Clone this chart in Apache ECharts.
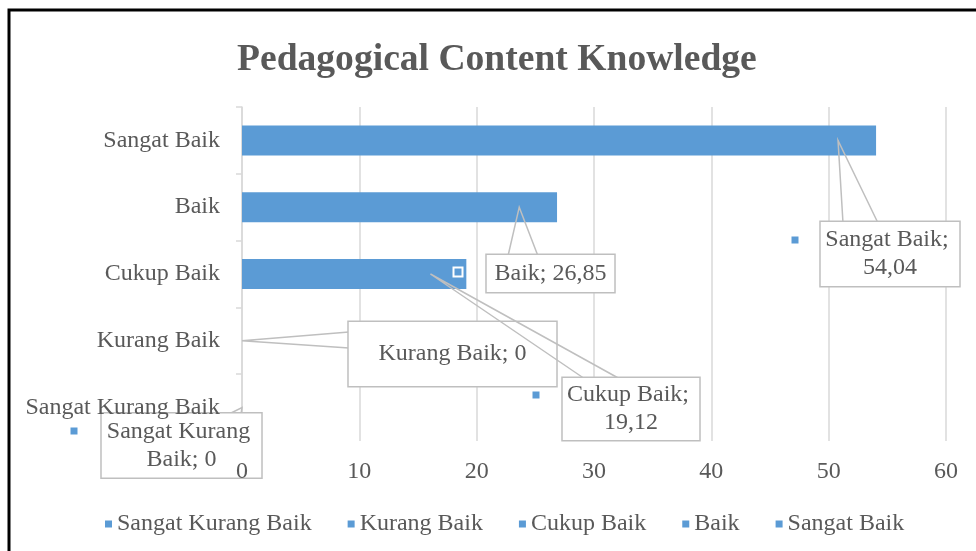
<!DOCTYPE html>
<html>
<head>
<meta charset="utf-8">
<script src="https://cdn.jsdelivr.net/npm/echarts@6/dist/echarts.min.js"></script>
<style>
html,body{margin:0;padding:0;background:#fff;}
#chart{width:976px;height:551px;}
</style>
</head>
<body>
<div id="chart"></div>
<script>
const categories = ['Sangat Kurang Baik', 'Kurang Baik', 'Cukup Baik', 'Baik', 'Sangat Baik'];
const values = [0, 0, 19.12, 26.85, 54.04];
const xTicks = [0, 10, 20, 30, 40, 50, 60];
const titleText = 'Pedagogical Content Knowledge';

// callout layout (pixels): box centre, box size, wedge base points on the box,
// and where along the bar (fraction of its length) the wedge tip points
const labelBoxes = [
  {cx: 181.5, cy: 445.5, w: 161, h: 64, lines: 2, base: [[229, 414], [241, 414]], tip: 0},
  {cx: 452.5, cy: 354, w: 209, h: 64, lines: 1, base: [[349, 332], [349, 348]], tip: 0},
  {cx: 631, cy: 409, w: 138, h: 62, lines: 2, base: [[585, 379], [620, 379]], tip: 0.84},
  {cx: 550.5, cy: 273.5, w: 129, h: 37, lines: 1, base: [[508, 256], [538, 256]], tip: 0.88},
  {cx: 890, cy: 254, w: 140, h: 64, lines: 2, base: [[843, 223], [878, 223]], tip: 0.94}
];
// legend-key squares beside the callouts (null = not shown)
const keyBoxes = [
  {x: 74, y: 431, size: 7, border: 0},
  null,
  {x: 536, y: 395, size: 7, border: 0},
  {x: 458, y: 272, size: 7, border: 2},
  {x: 795, y: 240, size: 7, border: 0}
];

const BLUE = '#5B9BD5';
const TXT = '#595959';
const FONT = "'Liberation Serif', 'Times New Roman', serif";
const LH = 28;

function fmt(v) {
  return v === 0 ? '0' : v.toFixed(2).replace('.', ',');
}

const series = [];
categories.forEach((c, i) => {
  series.push({
    name: c,
    type: 'bar',
    xAxisIndex: 0,
    yAxisIndex: 0,
    barWidth: 30,
    barGap: '-100%',
    itemStyle: {color: BLUE},
    data: categories.map((_, j) => j === i ? values[i] : '-'),
    z: 2
  });
});

// data-label callouts (wedge leader + boxed text + legend key)
series.push({
  name: 'callouts',
  type: 'custom',
  xAxisIndex: 0,
  yAxisIndex: 0,
  z: 3,
  clip: false,
  silent: true,
  encode: {x: 0, y: 1},
  data: values.map((v, i) => [v, i]),
  renderItem: function (params, api) {
    const i = params.dataIndex;
    const b = labelBoxes[i];
    const v = api.value(0);
    const tip = api.coord([v * b.tip, i]);
    const ph = 4;
    const pv = (b.h - b.lines * LH) / 2;
    const children = [
      {
        type: 'polyline',
        shape: {points: [b.base[0], tip, b.base[1]]},
        style: {stroke: '#bfbfbf', lineWidth: 1.5, fill: null}
      },
      {
        type: 'text',
        x: b.cx, y: b.cy,
        style: {
          text: categories[i] + '; ' + fmt(v),
          font: '24px ' + FONT,
          fill: TXT,
          align: 'center',
          verticalAlign: 'middle',
          lineHeight: LH,
          width: b.w - 2 * ph - 1.5,
          overflow: 'break',
          backgroundColor: '#fff',
          borderColor: '#bfbfbf',
          borderWidth: 1.5,
          padding: [pv, ph]
        }
      }
    ];
    const k = keyBoxes[i];
    if (k) {
      children.push({
        type: 'rect',
        shape: {x: k.x - k.size / 2 - k.border, y: k.y - k.size / 2 - k.border,
                width: k.size + 2 * k.border, height: k.size + 2 * k.border},
        style: {fill: '#fff'}
      });
      children.push({
        type: 'rect',
        shape: {x: k.x - k.size / 2, y: k.y - k.size / 2, width: k.size, height: k.size},
        style: {fill: BLUE}
      });
    }
    return {type: 'group', children: children};
  }
});

const option = {
  backgroundColor: '#fff',
  animation: false,
  title: {
    text: titleText,
    left: 232,
    top: 36,
    textStyle: {fontFamily: FONT, fontSize: 37.6, fontWeight: 'bold', color: TXT}
  },
  legend: {
    data: categories,
    top: 507,
    left: 100,
    icon: 'rect',
    itemWidth: 7,
    itemHeight: 7,
    itemGap: 36,
    textStyle: {fontFamily: FONT, fontSize: 24, color: TXT},
    selectedMode: false
  },
  grid: {left: 242, right: 30, top: 107, bottom: 110, containLabel: false},
  xAxis: [
    {
      type: 'value', min: xTicks[0], max: xTicks[xTicks.length - 1], interval: xTicks[1] - xTicks[0],
      position: 'bottom',
      axisLine: {show: false}, axisTick: {show: false}, axisLabel: {show: false},
      splitLine: {show: true, lineStyle: {color: '#d9d9d9', width: 1.5}}
    },
    {
      type: 'value', min: xTicks[0], max: xTicks[xTicks.length - 1], interval: xTicks[1] - xTicks[0],
      position: 'bottom', offset: 0, z: 10,
      axisLine: {show: false}, axisTick: {show: false}, splitLine: {show: false},
      axisLabel: {margin: 19, fontFamily: FONT, fontSize: 24, color: TXT,
                  formatter: v => xTicks.includes(v) ? String(v) : ''}
    }
  ],
  yAxis: [
    {
      type: 'category',
      data: categories,
      position: 'left',
      axisLine: {show: true, lineStyle: {color: '#d9d9d9', width: 1.5}},
      axisTick: {show: true, length: 6, lineStyle: {color: '#d9d9d9', width: 1.5}},
      axisLabel: {show: false},
      splitLine: {show: false}
    },
    {
      type: 'category',
      data: categories,
      position: 'left',
      offset: 0,
      z: 10,
      axisLine: {show: false},
      axisTick: {show: false},
      axisLabel: {margin: 22, fontFamily: FONT, fontSize: 24, color: TXT},
      splitLine: {show: false}
    }
  ],
  graphic: [{
    type: 'rect',
    shape: {x: 9, y: 10, width: 1000, height: 600},
    style: {fill: 'none', stroke: '#000', lineWidth: 3},
    z: 100,
    silent: true
  }],
  series: series
};

const chart = echarts.init(document.getElementById('chart'), null, {renderer: 'canvas'});
chart.setOption(option);
</script>
</body>
</html>
